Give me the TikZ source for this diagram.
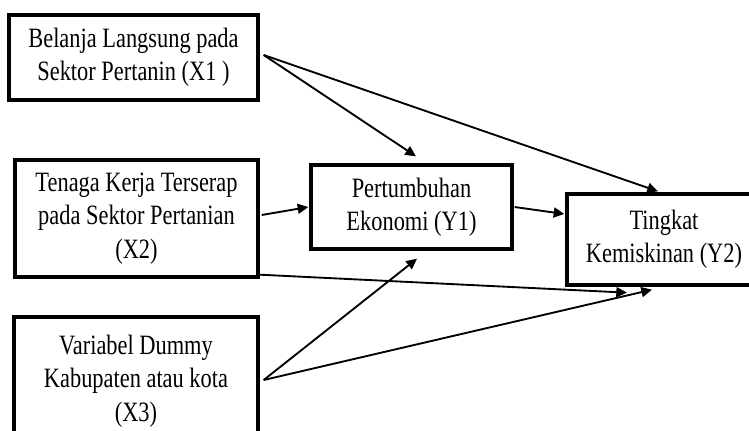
\documentclass[tikz,border=0pt]{standalone}
\usepackage{fontspec}
\setmainfont{Liberation Serif}[FakeStretch=0.8]
\usetikzlibrary{arrows.meta,calc}

\begin{document}
\begin{tikzpicture}[
  x=0.75pt, y=-0.75pt,
  font=\fontsize{21}{25}\selectfont,
  var/.style={draw, line width=2.5pt, align=center, inner sep=0pt},
  link/.style={-{Triangle[length=8pt, width=7.5pt]}, line width=1.4pt},
]
  \clip (0,0) rectangle (749,430);

  \node[var, minimum width=186.75pt, minimum height=63.75pt] (x1) at (133.5,57.5)
    {Belanja Langsung pada\\ Sektor Pertanin (X1 )};
  \node[var, minimum width=182.25pt, minimum height=87.75pt] (x2) at (136.5,218.5)
    {Tenaga Kerja Terserap\\ pada Sektor Pertanian\\ (X2)};
  \node[var, minimum width=183pt, minimum height=96pt] (x3) at (136,381)
    {Variabel Dummy\\ Kabupaten atau kota\\ (X3)};
  \node[var, minimum width=150.75pt, minimum height=63pt] (y1) at (411.5,207)
    {Pertumbuhan\\ Ekonomi (Y1)};
  \node[var, minimum width=145.5pt, minimum height=68.25pt] (y2) at (664,239.5)
    {Tingkat\\ Kemiskinan (Y2)};

  \draw[link] ($(x1.east)+(4,-2.5)$) -- ($(y1.north)+(4.5,-7)$);
  \draw[link] ($(x1.east)+(4,-2.5)$) -- ($(y2.north)+(-6,-1)$);
  \draw[link] ($(x2.east)+(2,-3.5)$) -- ($(y1.west)+(-1,0)$);
  \draw[link] ($(y1.east)+(1,0)$) -- ($(y2.west)+(-1,-25.5)$);
  \draw[link] ($(x2.south east)+(0,-4)$) -- ($(y2.south)+(-37,6)$);
  \draw[link] ($(x3.east)+(4,-1)$) -- ($(y1.south)+(5.5,8)$);
  \draw[link] ($(x3.east)+(4,-1)$) -- ($(y2.south)+(-12,3)$);
\end{tikzpicture}
\end{document}
